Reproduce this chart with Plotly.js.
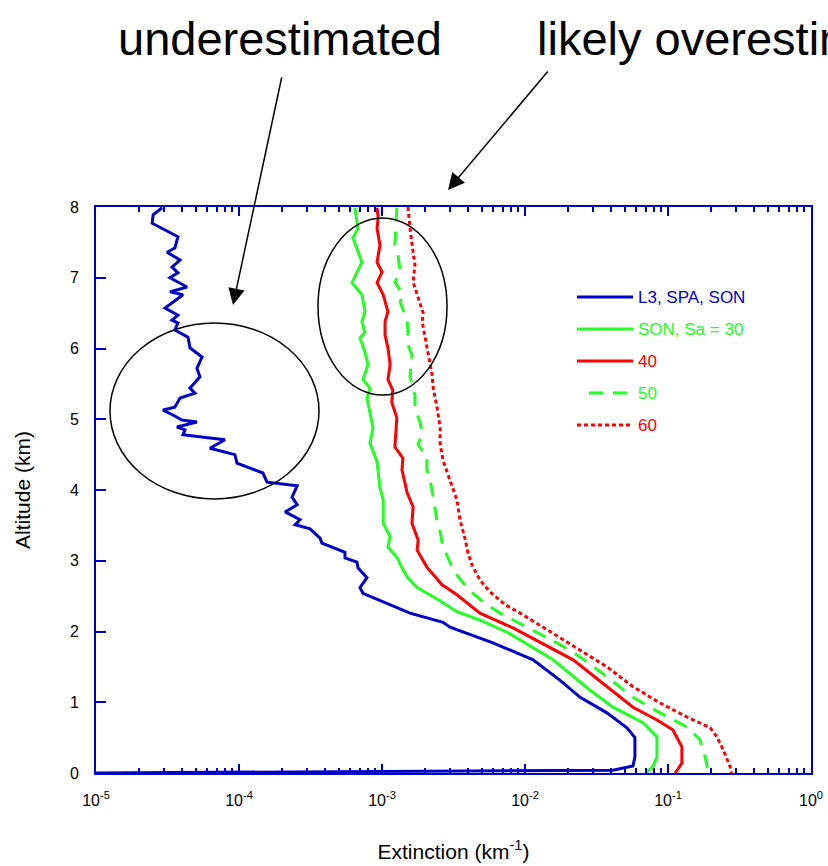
<!DOCTYPE html>
<html>
<head>
<meta charset="utf-8">
<script src="https://cdn.plot.ly/plotly-3.0.1.min.js"></script>
<style>
  html, body { margin: 0; padding: 0; background: #fff; }
  #chart { width: 828px; height: 866px; }
</style>
</head>
<body>
<div id="chart"></div>
<script>
// Extinction profiles (km^-1) versus altitude (km)
const l3Alt = [7.99,7.89,7.77,7.58,7.42,7.36,7.25,7.15,7.07,7.00,6.87,6.80,6.76,6.57,6.47,6.40,6.36,6.26,6.16,6.01,5.88,5.72,5.60,5.44,5.37,5.30,5.17,5.13,5.06,4.99,4.96,4.89,4.85,4.78,4.74,4.71,4.59,4.50,4.38,4.24,4.11,4.06,3.90,3.79,3.69,3.58,3.51,3.45,3.32,3.25,3.12,3.04,2.98,2.90,2.76,2.62,2.54,2.38,2.26,2.13,2.06,1.84,1.60,1.31,1.07,0.85,0.64,0.50,0.23,0.10,0.04,0.00];
const l3Ext = [2.90e-5,2.51e-5,2.47e-5,3.74e-5,3.56e-5,3.14e-5,3.87e-5,3.40e-5,3.74e-5,3.29e-5,4.33e-5,3.29e-5,4.06e-5,3.04e-5,3.74e-5,3.40e-5,3.74e-5,3.56e-5,4.40e-5,4.54e-5,5.51e-5,5.08e-5,5.33e-5,4.54e-5,4.92e-5,3.87e-5,3.56e-5,2.94e-5,3.45e-5,3.99e-5,5.08e-5,3.68e-5,4.19e-5,4.06e-5,6.07e-5,7.98e-5,6.26e-5,9.37e-5,9.68e-5,1.47e-4,1.57e-4,2.55e-4,2.35e-4,2.55e-4,2.10e-4,2.67e-4,2.47e-4,3.14e-4,3.69e-4,3.80e-4,5.51e-4,5.51e-4,6.68e-4,6.79e-4,7.85e-4,7.02e-4,7.36e-4,1.14e-3,1.57e-3,2.67e-3,2.99e-3,5.97e-3,1.14e-2,1.76e-2,2.43e-2,3.74e-2,5.16e-2,5.87e-2,5.87e-2,5.69e-2,4.12e-2,1.0e-5];

const sa30Alt = [7.99,7.70,7.56,7.22,6.93,6.76,6.52,6.38,6.23,6.15,5.95,5.77,5.56,5.44,5.30,4.88,4.66,4.40,4.03,3.86,3.53,3.34,3.19,3.05,2.90,2.77,2.62,2.45,2.28,2.16,1.99,1.60,1.17,0.93,0.71,0.51,0.23,0.09,0.00];
const sa30Ext = [6.47e-4,6.79e-4,6.26e-4,7.24e-4,6.17e-4,7.24e-4,7.60e-4,7.24e-4,7.60e-4,7.02e-4,7.60e-4,7.98e-4,7.36e-4,8.24e-4,7.85e-4,8.65e-4,8.24e-4,9.23e-4,9.68e-4,1.02e-3,1.02e-3,1.14e-3,1.10e-3,1.27e-3,1.38e-3,1.50e-3,1.76e-3,2.47e-3,3.34e-3,4.84e-3,7.48e-3,1.57e-2,2.85e-2,4.12e-2,6.68e-2,8.37e-2,8.37e-2,7.85e-2,7.0e-2];

const sa40Alt = [7.99,7.85,7.70,7.46,7.22,7.08,6.93,6.76,6.52,6.38,6.19,6.01,5.77,5.56,5.41,5.24,5.02,4.61,4.45,4.28,3.96,3.76,3.53,3.29,3.15,2.91,2.66,2.52,2.26,2.05,1.60,1.22,0.93,0.75,0.61,0.37,0.14,0.04,0.00];
const sa40Ext = [9.23e-4,9.40e-4,9.23e-4,9.68e-4,9.23e-4,1.00e-3,9.23e-4,1.02e-3,1.10e-3,1.05e-3,1.05e-3,1.10e-3,1.14e-3,1.10e-3,1.19e-3,1.17e-3,1.27e-3,1.23e-3,1.40e-3,1.38e-3,1.50e-3,1.65e-3,1.62e-3,1.79e-3,1.76e-3,2.06e-3,2.63e-3,3.34e-3,4.84e-3,8.24e-3,2.17e-2,3.74e-2,5.69e-2,8.37e-2,1.08e-1,1.25e-1,1.25e-1,1.16e-1,1.12e-1];

const sa50Alt = [7.99,7.46,7.35,7.08,6.94,6.76,6.66,6.38,6.23,6.08,5.91,5.60,5.34,5.17,4.96,4.82,4.64,4.47,4.28,4.14,3.90,3.55,3.41,3.19,3.04,2.87,2.69,2.54,2.42,2.26,2.06,1.84,1.64,1.36,1.07,0.85,0.65,0.47,0.23,0.09,0.00];
const sa50Ext = [1.27e-3,1.23e-3,1.29e-3,1.34e-3,1.23e-3,1.40e-3,1.34e-3,1.50e-3,1.52e-3,1.50e-3,1.62e-3,1.57e-3,1.70e-3,1.70e-3,1.84e-3,1.91e-3,1.79e-3,2.06e-3,2.06e-3,2.17e-3,2.28e-3,2.43e-3,2.55e-3,2.67e-3,2.90e-3,3.14e-3,3.68e-3,4.33e-3,5.08e-3,6.68e-3,1.03e-2,1.67e-2,2.43e-2,3.74e-2,5.69e-2,8.79e-2,1.36e-1,1.67e-1,1.82e-1,1.88e-1,1.70e-1];

const sa60Alt = [8.00,7.70,7.36,7.18,6.94,6.66,6.50,6.38,6.15,5.91,5.63,5.44,5.16,4.88,4.66,4.42,4.14,3.86,3.58,3.32,3.11,2.94,2.73,2.56,2.38,2.26,2.06,1.74,1.50,1.22,0.99,0.79,0.64,0.51,0.33,0.09,0.00];
const sa60Ext = [1.52e-3,1.57e-3,1.65e-3,1.70e-3,1.65e-3,1.84e-3,1.94e-3,1.91e-3,2.00e-3,2.10e-3,2.24e-3,2.28e-3,2.43e-3,2.55e-3,2.55e-3,2.67e-3,2.99e-3,3.34e-3,3.51e-3,3.80e-3,3.99e-3,4.26e-3,4.84e-3,5.69e-3,7.24e-3,9.23e-3,1.34e-2,2.43e-2,3.74e-2,5.69e-2,8.79e-2,1.36e-1,1.97e-1,2.20e-1,2.43e-1,2.72e-1,2.78e-1];

const seriesNames = ['L3, SPA, SON', 'SON, Sa = 30', '40', '50', '60'];
const xTickVals = [1e-5, 1e-4, 1e-3, 1e-2, 1e-1, 1];
const xTickText = ['10<sup>-5</sup>', '10<sup>-4</sup>', '10<sup>-3</sup>', '10<sup>-2</sup>', '10<sup>-1</sup>', '10<sup>0</sup>'];
const yTickVals = [0, 1, 2, 3, 4, 5, 6, 7, 8];

const BLUE = '#0000cc';
const GREEN = '#22ff22';
const RED = '#ff0000';
const FONT = 'Liberation Sans, Arial, Helvetica, sans-serif';

// minor tick positions 2..9 in each decade
const minorVals = [];
for (let e = -5; e < 0; e++) {
  for (let m = 2; m <= 9; m++) minorVals.push(m * Math.pow(10, e));
}

const styles = [
  { color: BLUE, width: 3, dash: 'solid' },
  { color: GREEN, width: 3, dash: 'solid' },
  { color: RED, width: 3, dash: 'solid' },
  { color: GREEN, width: 3, dash: '14px,10px' },
  { color: RED, width: 3, dash: '4px,3px' }
];
const xs = [l3Ext, sa30Ext, sa40Ext, sa50Ext, sa60Ext];
const ys = [l3Alt, sa30Alt, sa40Alt, sa50Alt, sa60Alt];

const traces = xs.map((x, i) => ({
  type: 'scatter', mode: 'lines', x: x, y: ys[i], name: seriesNames[i],
  line: styles[i], showlegend: false, hoverinfo: 'skip'
}));

// plot-area geometry helpers (paper units)
const L = 96, R = 811, T = 207, B = 773;
const px = v => (v - L) / (R - L);
const py = v => (B - v) / (B - T);

// hand-placed legend: sample line + coloured label
const legendRows = [297, 329, 361, 393, 425];
const shapes = [];
const annotations = [];
legendRows.forEach((row, i) => {
  const x0 = i === 3 ? 589 : 577;
  shapes.push({
    type: 'line', xref: 'paper', yref: 'paper',
    x0: px(x0), x1: px(633), y0: py(row), y1: py(row),
    line: { color: styles[i].color, width: 3, dash: styles[i].dash }
  });
  annotations.push({
    xref: 'paper', yref: 'paper', x: px(636), y: py(row),
    xanchor: 'left', yanchor: 'middle', showarrow: false,
    text: seriesNames[i], font: { family: FONT, size: 17, color: styles[i].color }
  });
});

// ellipses marking the two regions of interest
shapes.push({
  type: 'circle', xref: 'paper', yref: 'paper',
  x0: px(110), x1: px(319), y0: py(499), y1: py(323),
  line: { color: '#000', width: 1.5 }
});
shapes.push({
  type: 'circle', xref: 'paper', yref: 'paper',
  x0: px(318), x1: px(447), y0: py(395), y1: py(218),
  line: { color: '#000', width: 1.5 }
});

// callout texts and arrows
annotations.push({
  xref: 'paper', yref: 'paper', x: px(280), y: py(38),
  xanchor: 'center', yanchor: 'middle', showarrow: false,
  text: 'underestimated', font: { family: FONT, size: 47, color: '#000' }
});
annotations.push({
  xref: 'paper', yref: 'paper', x: px(535), y: py(38),
  xanchor: 'left', yanchor: 'middle', showarrow: false,
  text: 'likely overestimated', font: { family: FONT, size: 47, color: '#000' }
});
annotations.push({
  xref: 'paper', yref: 'paper', x: px(233), y: py(305),
  text: '', showarrow: true, axref: 'pixel', ayref: 'pixel',
  ax: 49, ay: -229, arrowhead: 2, arrowsize: 2.2, arrowwidth: 1.5, arrowcolor: '#000'
});
annotations.push({
  xref: 'paper', yref: 'paper', x: px(448), y: py(190),
  text: '', showarrow: true, axref: 'pixel', ayref: 'pixel',
  ax: 101, ay: -120, arrowhead: 2, arrowsize: 2.2, arrowwidth: 1.5, arrowcolor: '#000'
});

const layout = {
  width: 828, height: 866,
  margin: { l: L, r: 828 - R, t: T, b: 866 - B, pad: 0 },
  paper_bgcolor: '#fff', plot_bgcolor: '#fff',
  font: { family: FONT, color: '#000' },
  showlegend: false,
  xaxis: {
    type: 'log', range: [-5, 0], autorange: false,
    tickmode: 'array', tickvals: xTickVals, ticktext: xTickText,
    ticks: 'inside', ticklen: 9, tickwidth: 2, tickcolor: BLUE,
    minor: { tickmode: 'array', tickvals: minorVals, ticks: 'inside', ticklen: 5, tickwidth: 2, tickcolor: BLUE, showgrid: false },
    showline: true, linecolor: BLUE, linewidth: 2, mirror: 'ticks',
    showgrid: false, zeroline: false,
    tickfont: { family: FONT, size: 16, color: '#000' },
    ticklabelstandoff: 12,
    title: { text: 'Extinction (km<sup>-1</sup>)', font: { family: FONT, size: 21, color: '#000' }, standoff: 36 }
  },
  yaxis: {
    range: [0, 8], autorange: false,
    tickmode: 'array', tickvals: yTickVals,
    ticks: 'inside', ticklen: 10, tickwidth: 2, tickcolor: BLUE,
    showline: true, linecolor: BLUE, linewidth: 2, mirror: true,
    showgrid: false, zeroline: false,
    tickfont: { family: FONT, size: 16, color: '#000' },
    ticklabelstandoff: 12,
    title: { text: 'Altitude (km)', font: { family: FONT, size: 21, color: '#000' }, standoff: 34 }
  },
  shapes: shapes,
  annotations: annotations
};

Plotly.newPlot('chart', traces, layout, { displayModeBar: false, staticPlot: true });
</script>
</body>
</html>
